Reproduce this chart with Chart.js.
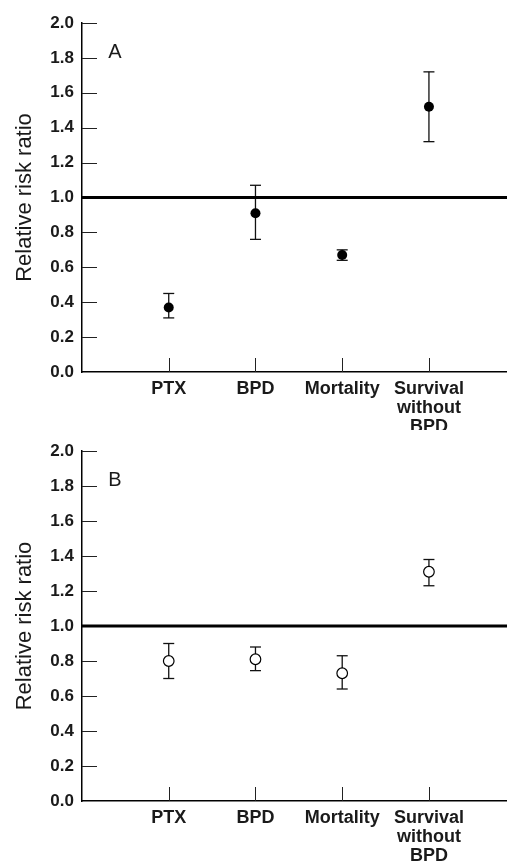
<!DOCTYPE html>
<html>
<head>
<meta charset="utf-8">
<script src="https://cdn.jsdelivr.net/npm/chart.js@4.4.1/dist/chart.umd.min.js"></script>
<style>
body { margin: 0; background: #fff; }
canvas { display: block; }
</style>
</head>
<body>
<canvas id="chartA" width="507" height="430"></canvas>
<canvas id="chartB" width="507" height="431"></canvas>
<script>
// categories along the x axis (multi-line labels)
var categories = [['PTX'], ['BPD'], ['Mortality'], ['Survival', 'without', 'BPD']];
var catPos = [1, 2, 3, 4];

// panel A: filled circles
var riskA = [0.37, 0.91, 0.67, 1.52];
var lowA  = [0.31, 0.76, 0.64, 1.32];
var highA = [0.45, 1.07, 0.70, 1.72];

// panel B: open circles
var riskB = [0.80, 0.81, 0.73, 1.31];
var lowB  = [0.70, 0.745, 0.64, 1.23];
var highB = [0.90, 0.88, 0.83, 1.38];

var refValue = 1.0;
var yMin = 0, yMax = 2.0, yStep = 0.2;

var FONT = '"Liberation Sans", Arial, Helvetica, sans-serif';
Chart.defaults.font.family = FONT;
Chart.defaults.font.weight = 'bold';
Chart.defaults.color = '#1a1a1a';

function line(ctx, x1, y1, x2, y2) {
    ctx.beginPath();
    ctx.moveTo(x1, y1);
    ctx.lineTo(x2, y2);
    ctx.stroke();
}

// inward tick marks, error bars and the panel letter
var extras = {
    id: 'extras',
    beforeDatasetsDraw: function(chart, args, opts) {
        var ctx = chart.ctx, xs = chart.scales.x, ys = chart.scales.y;
        ctx.save();
        ctx.strokeStyle = '#222';
        ctx.lineWidth = 1;
        ys.ticks.forEach(function(t) {
            if (t.value === 0) return;
            var py = Math.round(ys.getPixelForValue(t.value)) + 0.5;
            line(ctx, xs.left, py, xs.left + 15, py);
        });
        xs.ticks.forEach(function(t) {
            var px = Math.round(xs.getPixelForValue(t.value)) + 0.5;
            line(ctx, px, ys.bottom, px, ys.bottom - 14);
        });
        ctx.lineWidth = 1.3;
        ctx.strokeStyle = '#111';
        opts.low.forEach(function(lo, i) {
            var px = xs.getPixelForValue(catPos[i]);
            var pLo = ys.getPixelForValue(lo), pHi = ys.getPixelForValue(opts.high[i]);
            line(ctx, px, pLo, px, pHi);
            line(ctx, px - 5.5, pLo, px + 5.5, pLo);
            line(ctx, px - 5.5, pHi, px + 5.5, pHi);
        });
        ctx.fillStyle = '#1a1a1a';
        ctx.font = '20px ' + FONT;
        ctx.textAlign = 'center';
        ctx.textBaseline = 'middle';
        ctx.fillText(opts.letter, xs.getPixelForValue(0.38), ys.getPixelForValue(1.83));
        ctx.restore();
    }
};

function makeChart(id, risk, low, high, letter, filled, padTop, xHeight) {
    var pts = risk.map(function(v, i) { return { x: catPos[i], y: v }; });
    return new Chart(document.getElementById(id), {
        type: 'scatter',
        data: {
            datasets: [{
                data: pts,
                pointRadius: filled ? 5 : 5.3,
                pointBackgroundColor: filled ? '#000' : '#fff',
                pointBorderColor: '#000',
                pointBorderWidth: filled ? 0 : 1.2,
                order: 0
            }, {
                type: 'line',
                data: [{ x: 0, y: refValue }, { x: 4.9, y: refValue }],
                borderColor: '#000',
                borderWidth: 3,
                pointRadius: 0,
                order: 1
            }]
        },
        options: {
            responsive: false,
            animation: false,
            layout: { autoPadding: false, padding: { top: padTop, right: 0, left: 0, bottom: 0 } },
            plugins: {
                legend: { display: false },
                tooltip: { enabled: false },
                extras: { low: low, high: high, letter: letter }
            },
            scales: {
                x: {
                    type: 'linear',
                    min: 0,
                    max: 4.9,
                    afterBuildTicks: function(s) {
                        s.ticks = catPos.map(function(v) { return { value: v }; });
                    },
                    afterFit: function(s) {
                        s.height = xHeight;
                        s.paddingLeft = 0;
                        s.paddingRight = 0;
                    },
                    grid: { display: false, drawTicks: false },
                    border: { display: true, color: '#000', width: 1.5 },
                    ticks: {
                        padding: 7,
                        maxRotation: 0,
                        autoSkip: false,
                        font: { size: 18, lineHeight: 1.06 },
                        callback: function(v) { return categories[catPos.indexOf(v)] || ''; }
                    }
                },
                y: {
                    min: yMin,
                    max: yMax,
                    afterFit: function(s) { s.width = 82; },
                    grid: { display: false, drawTicks: false },
                    border: { display: true, color: '#000', width: 1.5 },
                    title: {
                        display: true,
                        text: 'Relative risk ratio',
                        font: { size: 22, weight: 'normal' },
                        padding: { top: 12, bottom: 0 }
                    },
                    ticks: {
                        stepSize: yStep,
                        padding: 8,
                        font: { size: 17 },
                        callback: function(v) { return v.toFixed(1); }
                    }
                }
            }
        },
        plugins: [extras]
    });
}

makeChart('chartA', riskA, lowA, highA, 'A', true, 23, 58);
makeChart('chartB', riskB, lowB, highB, 'B', false, 21, 60);
</script>
</body>
</html>
